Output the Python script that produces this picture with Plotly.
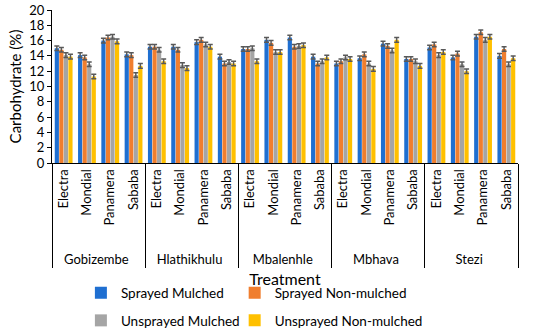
import plotly.graph_objects as go

locations = ["Gobizembe", "Hlathikhulu", "Mbalenhle", "Mbhava", "Stezi"]
varieties = ["Electra", "Mondial", "Panamera", "Sababa"]

series_names = ["Sprayed Mulched", "Sprayed Non-mulched", "Unsprayed Mulched", "Unsprayed Non-mulched"]
colors = ["#1F6FD1", "#F07E2E", "#A5A5A5", "#FFC000"]

# values ordered location-major, variety-minor
sprayed_mulched = [15.0, 14.1, 16.0, 14.2,
                   15.2, 15.2, 15.8, 13.9,
                   14.9, 16.1, 16.4, 13.9,
                   13.0, 13.7, 15.6, 13.6,
                   15.1, 13.8, 16.5, 14.0]
sprayed_nonmulched = [14.8, 13.8, 16.4, 14.1,
                      15.2, 14.8, 16.1, 13.0,
                      14.9, 15.7, 15.2, 13.0,
                      13.3, 14.2, 15.3, 13.6,
                      15.5, 14.3, 17.1, 14.9]
unsprayed_mulched = [14.1, 12.9, 16.5, 11.5,
                     14.8, 12.8, 15.5, 13.2,
                     15.0, 14.5, 15.3, 13.3,
                     13.8, 13.0, 14.7, 13.3,
                     14.1, 12.9, 16.1, 12.9]
unsprayed_nonmulched = [13.9, 11.3, 15.9, 12.7,
                        13.3, 12.4, 15.2, 13.0,
                        13.3, 14.5, 15.4, 13.8,
                        13.6, 12.3, 16.1, 12.7,
                        14.5, 12.0, 16.5, 13.7]
error = [0.3] * 20

series_values = [sprayed_mulched, sprayed_nonmulched, unsprayed_mulched, unsprayed_nonmulched]

PAD = "\u00a0" * 4
outer = [loc for loc in locations for _ in varieties]
inner = [PAD + v for _ in locations for v in varieties]

FONT = "Lato"

fig = go.Figure()
legend_ids = ["legend", "legend2", "legend3", "legend4"]
for name, vals, col, lg in zip(series_names, series_values, colors, legend_ids):
    fig.add_trace(go.Bar(
        x=[outer, inner], y=vals, name=name, marker_color=col,
        marker_line_width=0, legend=lg,
        error_y=dict(type="data", array=error, color="#595959", thickness=1.5, width=2.5),
    ))

legend_common = dict(xanchor="left", yanchor="middle",
                     font=dict(family=FONT, size=13.5, color="#000000"),
                     itemwidth=30, bgcolor="rgba(0,0,0,0)")
col1_x, col2_x = 0.062, 0.392
row1_y, row2_y = -0.85, -1.03

fig.update_layout(
    width=550, height=333,
    margin=dict(l=52, r=32, t=10, b=170, autoexpand=False),
    paper_bgcolor="white", plot_bgcolor="white",
    barmode="group", bargap=0.22, bargroupgap=0.08,
    font=dict(family=FONT, size=12, color="#000000"),
    showlegend=True,
    legend=dict(x=col1_x, y=row1_y, **legend_common),
    legend2=dict(x=col2_x, y=row1_y, **legend_common),
    legend3=dict(x=col1_x, y=row2_y, **legend_common),
    legend4=dict(x=col2_x, y=row2_y, **legend_common),
)
fig.update_xaxes(
    type="multicategory", tickangle=-90,
    showline=True, linecolor="#000000", linewidth=1,
    showdividers=True, dividercolor="#000000", dividerwidth=1,
    tickfont=dict(family=FONT, size=13, color="#000000"),
    title=dict(text="Treatment", font=dict(family=FONT, size=16, color="#000000"), standoff=7),
    ticks="",
)
fig.update_yaxes(
    range=[0, 20], dtick=2, showgrid=False, zeroline=False,
    showline=True, linecolor="#000000", linewidth=1,
    ticks="outside", ticklen=4, tickcolor="#000000",
    tickfont=dict(family=FONT, size=13, color="#000000"),
    title=dict(text="Carbohydrate (%)", font=dict(family=FONT, size=15, color="#000000"), standoff=4),
)

fig.write_html("out.html", post_script="document.body.style.margin='0';",
               config={"displayModeBar": False})
